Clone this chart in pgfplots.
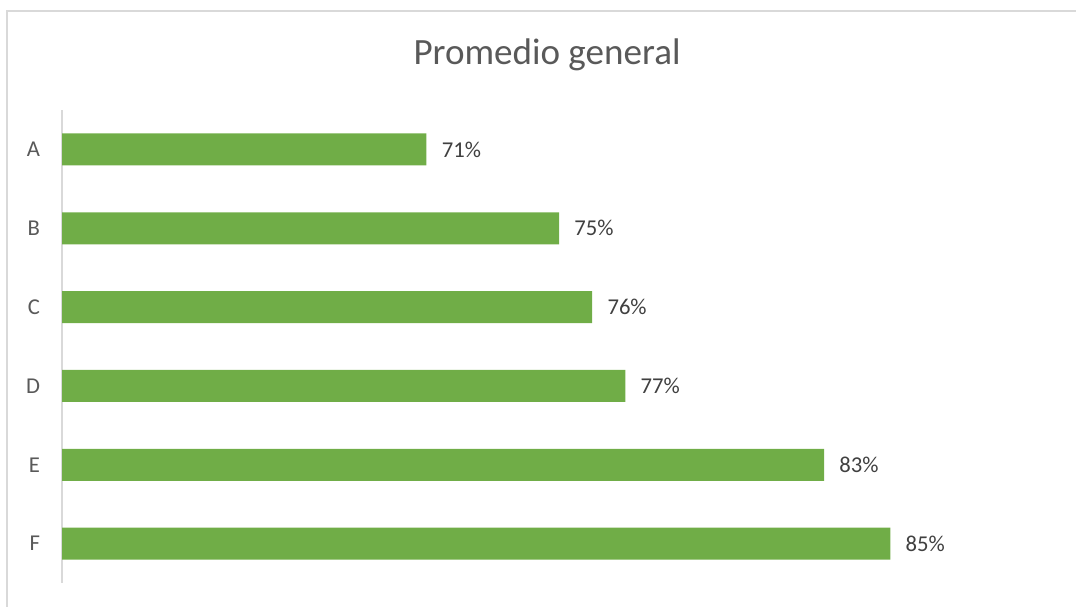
\documentclass[border=0pt]{standalone}
\usepackage{pgfplots}
\pgfplotsset{compat=1.18}
\usepackage{fontspec}
\setmainfont{Carlito}
\definecolor{barg}{HTML}{70AD47}
\definecolor{axg}{HTML}{D9D9D9}
\definecolor{txt}{HTML}{595959}
\definecolor{dtxt}{HTML}{404040}
\begin{document}
\begin{tikzpicture}
\useasboundingbox (0,0) rectangle (807pt,455.25pt);
\draw[axg, line width=1.5pt] (5.25pt,0) -- (5.25pt,447pt) -- (807pt,447pt);
\node[txt, font=\fontsize{27.8}{32}\selectfont] at (410.25pt,414pt) {Promedio general};
\begin{axis}[
  at={(46.5pt,18pt)}, anchor=south west,
  scale only axis, width=745.5pt, height=354.75pt,
  xbar, bar width=24pt, bar shift=0pt,
  xmin=60, xmax=90, ymin=-0.5, ymax=5.5, y dir=reverse,
  ytick={0,1,2,3,4,5}, yticklabels={A,B,C,D,E,F},
  xtick=\empty,
  major tick length=0pt,
  axis x line=none,
  axis y line*=left,
  y axis line style={axg, line width=1.5pt, -},
  yticklabel style={txt, font=\fontsize{17}{20}\selectfont, xshift=-13pt},
  /pgf/number format/assume math mode=true,
  point meta=x,
  nodes near coords={\pgfmathprintnumber{\pgfplotspointmeta}\%},
  nodes near coords style={anchor=west, xshift=8pt, dtxt, font=\fontsize{17}{20}\selectfont},
  clip=true,
]
\addplot[fill=barg, draw=none] coordinates {(71,0) (75,1) (76,2) (77,3) (83,4) (85,5)};
\end{axis}
\end{tikzpicture}
\end{document}
